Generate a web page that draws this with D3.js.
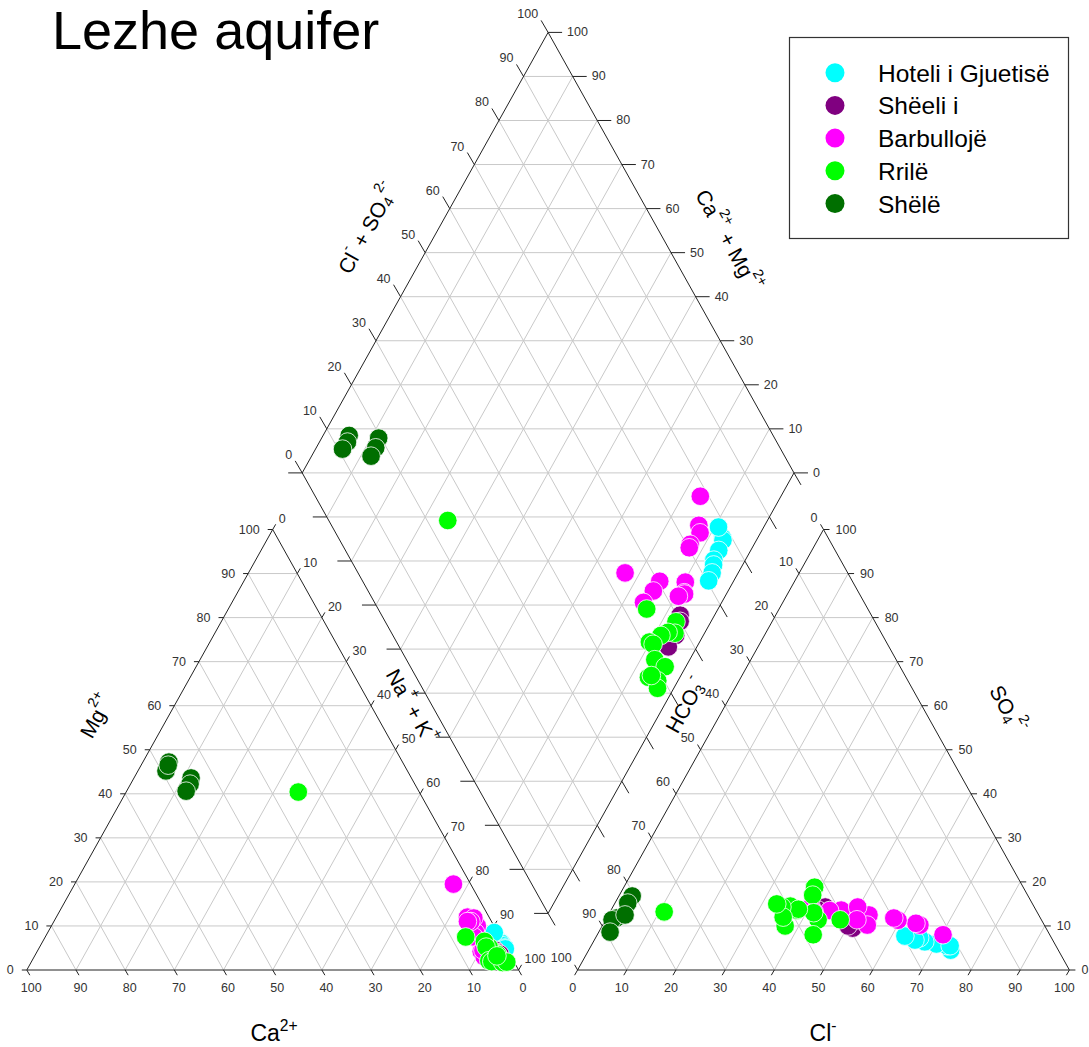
<!DOCTYPE html>
<html>
<head>
<meta charset="utf-8">
<title>Lezhe aquifer</title>
<script src="https://cdnjs.cloudflare.com/ajax/libs/d3/7.8.5/d3.min.js"></script>
<style>
	body { margin: 0; background: #fff; }
	svg { display: block; font-family: "Liberation Sans", Arial, sans-serif; }
</style>
</head>
<body>
<div id="chart"></div>
<script>
// sites, in legend order (also the drawing order)
var siteNames = ["Hoteli i Gjuetisë", "Shëeli i", "Barbullojë", "Rrilë", "Shëlë"];
var siteColors = ["#00FFFF", "#800080", "#FF00FF", "#00FF00", "#006F00"];

// one entry per sample, % of meq (Na+K and HCO3 are the remainder)
var sampleSite = [0,0,0,0,0,0,0,0, 1,1,1,1,1, 2,2,2,2,2,2,2,2,2,2,2,2,2, 3,3,3,3,3,3,3,3,3,3,3,3,3,3, 4,4,4,4,4,4];
var caPct  = [0.6,0.5,0.5,0.4,0.4,0.3,0.3,0.7, 2.5,2.3,2.0,3.0,2.5, 4.4,3.4,5.0,4.5,5.3,3.5,3.2,4.2,4.9,5.5,4.7,5.5,5.0,
	24.6,7.0,3.0,2.5,3.7,3.4,3.7,4.0,5.0,2.5,4.5,2.4,1.5,2.8, 47.5,49.1,48.0,44.8,45.7,47.3];
var mgPct  = [6.5,6.3,6.0,6.0,5.5,5.0,4.8,8.5, 4.5,4.0,3.6,3.8,3.3, 12.0,10.0,7.3,8.5,7.5,19.5,11.8,11.0,11.0,4.2,4.0,3.0,4.5,
	40.4,7.5,4.1,3.5,3.8,5.2,6.5,5.2,2.1,1.7,1.9,1.7,1.8,3.2, 47.2,45.2,46.5,43.6,42.2,40.6];
var clPct  = [73.6,72.4,70.0,67.4,65.9,65.2,62.7,73.0, 51.2,50.0,43.2,42.1,40.2, 70.3,64.5,63.5,59.5,58.4,40.2,46.8,44.5,41.5,53.0,49.8,53.8,51.1,
	11.0,43.2,47.7,38.8,39.3,41.5,37.8,43.9,36.0,38.0,37.2,34.4,35.8,33.0, 2.0,1.3,2.3,2.7,2.6,3.4];
var so4Pct = [4.5,5.5,5.9,6.4,7.3,6.8,7.7,5.5, 9.5,10.0,14.3,13.6,14.5, 8.0,10.2,10.6,11.3,11.8,14.1,13.6,13.5,13.2,12.5,14.3,10.2,11.4,
	13.2,11.4,11.4,18.8,17.0,13.0,13.6,8.0,14.5,13.8,10.0,14.3,12.0,15.0, 11.8,11.4,8.6,16.8,15.2,12.5];

var tickValues = d3.range(0, 101, 10);
var gridValues = d3.range(10, 100, 10);

var width = 1089, height = 1047;
var svg = d3.select("#chart").append("svg")
	.attr("width", width)
	.attr("height", height);

// plot units: each triangle 100 wide and 100 high, 12 apart; the diamond sits above the gap
var gap = 12, dBase = 12.85;
var x = d3.scaleLinear().domain([0, 212]).range([26.8, 1069.4]);
var y = d3.scaleLinear().domain([0, 100]).range([970, 529.5]);

function cation(ca, mg) {
	var na = 100 - ca - mg;
	return [x(na + mg / 2), y(mg)];
}
function anion(cl, so4) {
	return [x(100 + gap + cl + so4 / 2), y(so4)];
}
// camg = Ca+Mg of the cations, clso4 = Cl+SO4 of the anions
function diamond(camg, clso4) {
	var a = clso4 / 100, b = (100 - camg) / 100;
	return [x(50 + gap / 2 + 50 * a + 50 * b), y(dBase + 100 + 100 * a - 100 * b)];
}

function line(g, p, q) {
	g.append("line")
		.attr("x1", p[0]).attr("y1", p[1])
		.attr("x2", q[0]).attr("y2", q[1]);
}

/*********** grid ***********/
var grid = svg.append("g")
	.attr("stroke", "#c9c9c9")
	.attr("stroke-width", 1);

gridValues.forEach(function(k) {
	line(grid, cation(100 - k, k), cation(0, k));      // Mg
	line(grid, cation(k, 100 - k), cation(k, 0));      // Ca
	line(grid, cation(100 - k, 0), cation(0, 100 - k)); // Na+K
	line(grid, anion(0, k), anion(100 - k, k));        // SO4
	line(grid, anion(k, 0), anion(k, 100 - k));        // Cl
	line(grid, anion(0, 100 - k), anion(100 - k, 0));  // HCO3
	line(grid, diamond(100, k), diamond(0, k));
	line(grid, diamond(k, 0), diamond(k, 100));
});
// horizontal lines of the diamond
d3.range(-90, 91, 10).forEach(function(d) {
	if (d >= 0) {
		line(grid, diamond(100, d), diamond(d, 100));
	} else {
		line(grid, diamond(100 + d, 0), diamond(0, 100 + d));
	}
});

/*********** outlines ***********/
var frame = svg.append("g")
	.attr("fill", "none")
	.attr("stroke", "#222")
	.attr("stroke-width", 1);

[[cation(100, 0), cation(0, 0), cation(0, 100)],
 [anion(0, 0), anion(100, 0), anion(0, 100)],
 [diamond(100, 0), diamond(100, 100), diamond(0, 100), diamond(0, 0)]].forEach(function(pts) {
	frame.append("path").attr("d", d3.line()(pts) + "Z");
});

/*********** ticks and labels ***********/
var ticks = svg.append("g").attr("stroke", "#222").attr("stroke-width", 1);
var labels = svg.append("g")
	.attr("font-size", 12.5)
	.attr("fill", "#333")
	.attr("dominant-baseline", "central");

function axis(pointFn, tdx, tdy, lx, ly, anchor, fixedY) {
	tickValues.forEach(function(k) {
		var p = pointFn(k);
		line(ticks, p, [p[0] + tdx, p[1] + tdy]);
		if (lx === null) return;
		labels.append("text")
			.attr("x", p[0] + lx)
			.attr("y", fixedY ? fixedY : p[1] + ly)
			.attr("text-anchor", anchor)
			.text(k);
	});
}

axis(function(k) { return cation(100 - k, k); }, -5, 0, -13, 0, "end");          // Mg
axis(function(k) { return cation(k, 0); }, 3, 5.2, 4.5, 0, "middle", 988);       // Ca
axis(function(k) { return cation(0, 100 - k); }, 3, -5.2, 6, -11, "start");      // Na+K
axis(function(k) { return anion(0, 100 - k); }, -3, -5.2, -6, -12, "end");       // HCO3
axis(function(k) { return anion(k, 0); }, -3, 5.2, -5, 0, "middle", 988);        // Cl
axis(function(k) { return anion(100 - k, k); }, 6, 0, 12, 0, "start");           // SO4
axis(function(k) { return diamond(100, k); }, -7, -12, -10, -18, "end");         // Cl+SO4
axis(function(k) { return diamond(k, 100); }, 14, 0, 19, 0, "start");            // Ca+Mg
axis(function(k) { return diamond(k, 0); }, -14, 0, null);
axis(function(k) { return diamond(0, k); }, 7, 12, null);

/*********** axis titles ***********/
function richText(cx, cy, angle, size, parts, central) {
	var t = svg.append("text")
		.attr("transform", "translate(" + cx + "," + cy + ") rotate(" + angle + ")")
		.attr("text-anchor", "middle")
		.attr("font-size", size)
		.attr("fill", "#000");
	if (central) t.attr("dominant-baseline", "central");
	var shift = 0;
	parts.forEach(function(p) {
		var target = p[1] == "sup" ? -0.45 * size : (p[1] == "sub" ? 0.28 * size : 0);
		t.append("tspan")
			.attr("dy", target - shift)
			.attr("font-size", p[1] ? size * 0.68 : size)
			.text(p[0]);
		shift = target;
	});
}

richText(274, 1041, 0, 23, [["Ca"], ["2+", "sup"]]);
richText(823, 1041, 0, 23, [["Cl"], ["-", "sup"]]);
richText(96, 716, -61, 21, [["Mg"], ["2+", "sup"]], true);
richText(367, 228, -61, 21, [["Cl"], ["-", "sup"], [" + SO"], ["4", "sub"], ["2-", "sup"]], true);
richText(729, 240, 61, 21, [["Ca"], ["2+", "sup"], [" + Mg"], ["2+", "sup"]], true);
richText(412, 706, 61, 21, [["Na"], ["+", "sup"], [" + K"], ["+", "sup"]], true);
richText(685, 705, -61, 21, [["HCO"], ["3", "sub"], ["-", "sup"]], true);
richText(1008, 709, 61, 21, [["SO"], ["4", "sub"], ["2-", "sup"]], true);

/*********** samples ***********/
var samples = d3.range(sampleSite.length).map(function(i) {
	return { site: sampleSite[i], ca: caPct[i], mg: mgPct[i], cl: clPct[i], so4: so4Pct[i] };
});

var points = svg.append("g")
	.attr("stroke", "#fff")
	.attr("stroke-width", 0.8);

[
	function(d) { return cation(d.ca, d.mg); },
	function(d) { return anion(d.cl, d.so4); },
	function(d) { return diamond(d.ca + d.mg, d.cl + d.so4); }
].forEach(function(pos) {
	points.selectAll(null)
		.data(samples)
		.enter().append("circle")
		.attr("cx", function(d) { return pos(d)[0]; })
		.attr("cy", function(d) { return pos(d)[1]; })
		.attr("r", 9.3)
		.attr("fill", function(d) { return siteColors[d.site]; });
});

/*********** title + legend ***********/
svg.append("text")
	.attr("x", 52)
	.attr("y", 49)
	.attr("font-size", 54)
	.attr("fill", "#000")
	.text("Lezhe aquifer");

var legend = svg.append("g");
legend.append("rect")
	.attr("x", 789.5).attr("y", 37.5)
	.attr("width", 279).attr("height", 201)
	.attr("fill", "#fff")
	.attr("stroke", "#333")
	.attr("stroke-width", 1.2);

var item = legend.selectAll(".item")
	.data(siteNames)
	.enter().append("g")
	.attr("class", "item")
	.attr("transform", function(d, i) { return "translate(0," + (72.7 + i * 32.7) + ")"; });
item.append("circle")
	.attr("cx", 835)
	.attr("r", 9.5)
	.attr("fill", function(d, i) { return siteColors[i]; });
item.append("text")
	.attr("x", 878)
	.attr("y", 9)
	.attr("font-size", 24.5)
	.attr("fill", "#000")
	.text(function(d) { return d; });
</script>
</body>
</html>
